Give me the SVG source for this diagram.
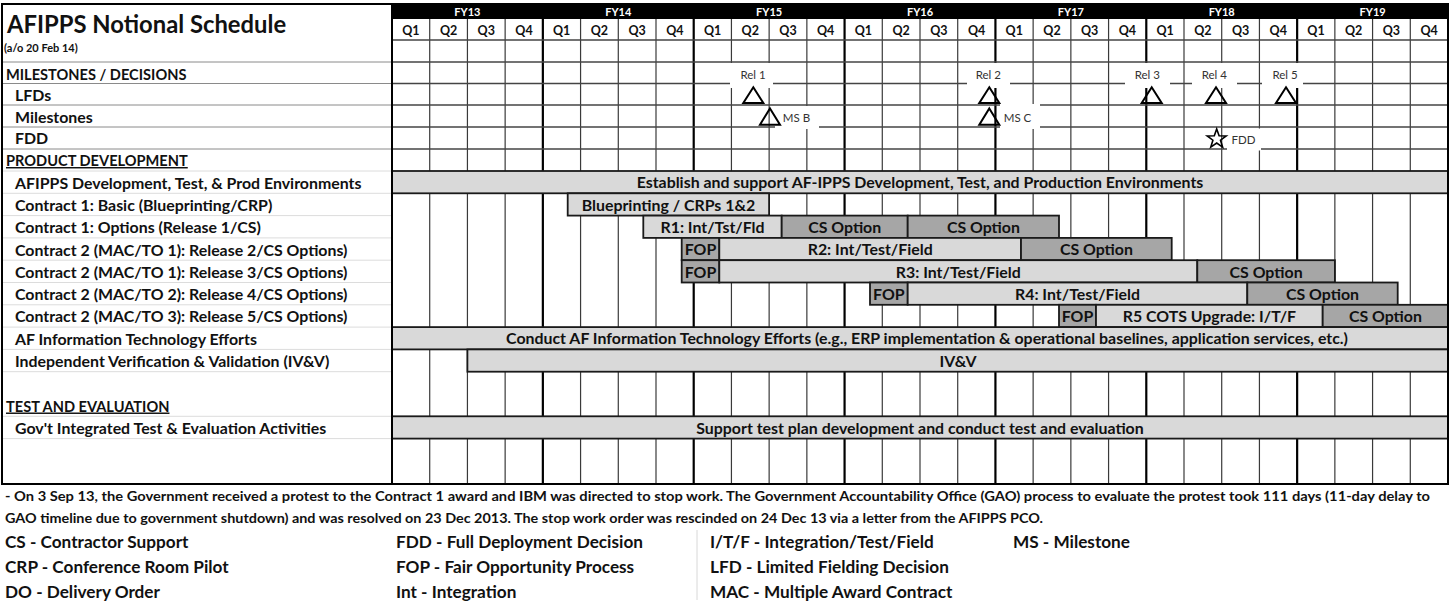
<svg xmlns="http://www.w3.org/2000/svg" width="1450" height="606" viewBox="0 0 1450 606">
<style>
text{font-family:Lato,"Liberation Sans",sans-serif;fill:#111}
.b{font-weight:bold}
.lbl{font-weight:bold;font-size:15.9px}
.hd{font-weight:bold;font-size:14.6px}
.fy{font-weight:bold;font-size:11px;fill:#fff;text-anchor:middle}
.q{font-weight:bold;font-size:12.5px;text-anchor:middle}
.bt{font-weight:bold;font-size:15.9px;text-anchor:middle}
.ms{font-size:11.5px;fill:#333;text-anchor:middle}
.lg{font-weight:bold;font-size:17.2px}
.nt{font-weight:bold;font-size:14px}
.vq{stroke:#3a3a3a;stroke-width:1.2}
.vy{stroke:#000;stroke-width:2.2}
.hm{stroke:#444;stroke-width:1.3}
.sepm{stroke:#8a8a8a;stroke-width:1}
.sepl{stroke:#dcdcdc;stroke-width:1}
.lt{fill:#d9d9d9;stroke:#1a1a1a;stroke-width:1.8}
.dk{fill:#a6a6a6;stroke:#1a1a1a;stroke-width:1.8}
.tri{fill:none;stroke:#000;stroke-width:2}
.wb{fill:#fff;stroke:none}
</style>
<rect x="0" y="0" width="1450" height="606" fill="#fff"/>

<g id="grid">
  <g id="quarter-lines">
    <line class="vq" x1="429.71" y1="19" x2="429.71" y2="484"/>
    <line class="vq" x1="467.43" y1="19" x2="467.43" y2="484"/>
    <line class="vq" x1="505.14" y1="19" x2="505.14" y2="484"/>
    <line class="vq" x1="580.57" y1="19" x2="580.57" y2="484"/>
    <line class="vq" x1="618.29" y1="19" x2="618.29" y2="484"/>
    <line class="vq" x1="656" y1="19" x2="656" y2="484"/>
    <line class="vq" x1="731.43" y1="19" x2="731.43" y2="484"/>
    <line class="vq" x1="769.14" y1="19" x2="769.14" y2="484"/>
    <line class="vq" x1="806.86" y1="19" x2="806.86" y2="484"/>
    <line class="vq" x1="882.29" y1="19" x2="882.29" y2="484"/>
    <line class="vq" x1="920" y1="19" x2="920" y2="484"/>
    <line class="vq" x1="957.71" y1="19" x2="957.71" y2="484"/>
    <line class="vq" x1="1033.14" y1="19" x2="1033.14" y2="484"/>
    <line class="vq" x1="1070.86" y1="19" x2="1070.86" y2="484"/>
    <line class="vq" x1="1108.57" y1="19" x2="1108.57" y2="484"/>
    <line class="vq" x1="1184" y1="19" x2="1184" y2="484"/>
    <line class="vq" x1="1221.71" y1="19" x2="1221.71" y2="484"/>
    <line class="vq" x1="1259.43" y1="19" x2="1259.43" y2="484"/>
    <line class="vq" x1="1334.86" y1="19" x2="1334.86" y2="484"/>
    <line class="vq" x1="1372.57" y1="19" x2="1372.57" y2="484"/>
    <line class="vq" x1="1410.29" y1="19" x2="1410.29" y2="484"/>
  </g>
  <g id="fy-lines">
    <line class="vy" x1="542.86" y1="19" x2="542.86" y2="484"/>
    <line class="vy" x1="693.71" y1="19" x2="693.71" y2="484"/>
    <line class="vy" x1="844.57" y1="19" x2="844.57" y2="484"/>
    <line class="vy" x1="995.43" y1="19" x2="995.43" y2="484"/>
    <line class="vy" x1="1146.29" y1="19" x2="1146.29" y2="484"/>
    <line class="vy" x1="1297.14" y1="19" x2="1297.14" y2="484"/>
  </g>
  <g id="milestone-rows">
    <line class="hm" x1="392" y1="40" x2="1448" y2="40"/>
    <line class="hm" x1="392" y1="62" x2="1448" y2="62"/>
    <line class="hm" x1="392" y1="83.5" x2="1448" y2="83.5"/>
    <line class="hm" x1="392" y1="105" x2="1448" y2="105"/>
    <line class="hm" x1="392" y1="127" x2="1448" y2="127"/>
    <line class="hm" x1="392" y1="149" x2="1448" y2="149"/>
  </g>
</g>

<g id="header">
  <rect x="392" y="4" width="1056" height="15" fill="#000"/>
  <text class="fy" x="467.4" y="15.5">FY13</text>
  <text class="fy" x="618.3" y="15.5">FY14</text>
  <text class="fy" x="769.1" y="15.5">FY15</text>
  <text class="fy" x="920" y="15.5">FY16</text>
  <text class="fy" x="1070.9" y="15.5">FY17</text>
  <text class="fy" x="1221.7" y="15.5">FY18</text>
  <text class="fy" x="1372.6" y="15.5">FY19</text>
  <g id="quarters">
    <text class="q" x="410.86" y="35">Q1</text><text class="q" x="448.57" y="35">Q2</text><text class="q" x="486.29" y="35">Q3</text><text class="q" x="524" y="35">Q4</text>
    <text class="q" x="561.71" y="35">Q1</text><text class="q" x="599.43" y="35">Q2</text><text class="q" x="637.14" y="35">Q3</text><text class="q" x="674.86" y="35">Q4</text>
    <text class="q" x="712.57" y="35">Q1</text><text class="q" x="750.29" y="35">Q2</text><text class="q" x="788" y="35">Q3</text><text class="q" x="825.71" y="35">Q4</text>
    <text class="q" x="863.43" y="35">Q1</text><text class="q" x="901.14" y="35">Q2</text><text class="q" x="938.86" y="35">Q3</text><text class="q" x="976.57" y="35">Q4</text>
    <text class="q" x="1014.29" y="35">Q1</text><text class="q" x="1052" y="35">Q2</text><text class="q" x="1089.71" y="35">Q3</text><text class="q" x="1127.43" y="35">Q4</text>
    <text class="q" x="1165.14" y="35">Q1</text><text class="q" x="1202.86" y="35">Q2</text><text class="q" x="1240.57" y="35">Q3</text><text class="q" x="1278.29" y="35">Q4</text>
    <text class="q" x="1316" y="35">Q1</text><text class="q" x="1353.71" y="35">Q2</text><text class="q" x="1391.43" y="35">Q3</text><text class="q" x="1429.14" y="35">Q4</text>
  </g>
</g>

<g id="bars">
  <g id="bar-env"><rect class="lt" x="392" y="171" width="1056" height="22.3"/><text class="bt" x="920" y="188.3">Establish and support AF-IPPS Development, Test, and Production Environments</text></g>
  <g id="bar-blueprint"><rect class="lt" x="567.7" y="193.3" width="201.4" height="22.3"/><text class="bt" x="668.4" y="210.6">Blueprinting / CRPs 1&amp;2</text></g>
  <g id="bar-r1">
    <rect class="lt" x="643.3" y="215.6" width="138.4" height="22.3"/><text class="bt" x="712.5" y="232.9">R1: Int/Tst/Fld</text>
    <rect class="dk" x="781.7" y="215.6" width="126" height="22.3"/><text class="bt" x="844.7" y="232.9">CS Option</text>
    <rect class="dk" x="907.7" y="215.6" width="151.3" height="22.3"/><text class="bt" x="983.4" y="232.9">CS Option</text>
  </g>
  <g id="bar-r2">
    <rect class="dk" x="681.7" y="237.9" width="37.6" height="22.3"/><text class="bt" x="700.5" y="255.2">FOP</text>
    <rect class="lt" x="719.3" y="237.9" width="301.7" height="22.3"/><text class="bt" x="870.2" y="255.2">R2: Int/Test/Field</text>
    <rect class="dk" x="1021" y="237.9" width="150.7" height="22.3"/><text class="bt" x="1096.4" y="255.2">CS Option</text>
  </g>
  <g id="bar-r3">
    <rect class="dk" x="681.7" y="260.2" width="37.6" height="22.3"/><text class="bt" x="700.5" y="277.5">FOP</text>
    <rect class="lt" x="719.3" y="260.2" width="478" height="22.3"/><text class="bt" x="958.3" y="277.5">R3: Int/Test/Field</text>
    <rect class="dk" x="1197.3" y="260.2" width="137.6" height="22.3"/><text class="bt" x="1266.1" y="277.5">CS Option</text>
  </g>
  <g id="bar-r4">
    <rect class="dk" x="870" y="282.5" width="37.7" height="22.3"/><text class="bt" x="888.9" y="299.8">FOP</text>
    <rect class="lt" x="907.7" y="282.5" width="339.6" height="22.3"/><text class="bt" x="1077.5" y="299.8">R4: Int/Test/Field</text>
    <rect class="dk" x="1247.3" y="282.5" width="150.4" height="22.3"/><text class="bt" x="1322.5" y="299.8">CS Option</text>
  </g>
  <g id="bar-r5">
    <rect class="dk" x="1059" y="304.8" width="37" height="22.3"/><text class="bt" x="1077.5" y="322.1">FOP</text>
    <rect class="lt" x="1096" y="304.8" width="226.7" height="22.3"/><text class="bt" x="1209.4" y="322.1">R5 COTS Upgrade: I/T/F</text>
    <rect class="dk" x="1322.7" y="304.8" width="125.3" height="22.3"/><text class="bt" x="1385.4" y="322.1">CS Option</text>
  </g>
  <g id="bar-it"><rect class="lt" x="392" y="327.1" width="1056" height="22.3"/><text class="bt" x="927" y="344.4">Conduct AF Information Technology Efforts (e.g., ERP implementation &amp; operational baselines, application services, etc.)</text></g>
  <g id="bar-ivv"><rect class="lt" x="467.4" y="349.4" width="980.6" height="22.3"/><text class="bt" x="958" y="366.7">IV&amp;V</text></g>
  <g id="bar-test"><rect class="lt" x="392" y="416.3" width="1056" height="22.3"/><text class="bt" x="920" y="433.6">Support test plan development and conduct test and evaluation</text></g>
</g>

<g id="labels">
  <rect x="2" y="4" width="390" height="480" fill="#fff"/>
  <line class="sepm" x1="2" y1="62" x2="392" y2="62"/>
  <line class="sepm" x1="2" y1="83.5" x2="392" y2="83.5"/>
  <line class="sepm" x1="2" y1="105" x2="392" y2="105"/>
  <line class="sepm" x1="2" y1="127" x2="392" y2="127"/>
  <line class="sepm" x1="2" y1="149" x2="392" y2="149"/>
  <g id="light-seps">
    <line class="sepl" x1="2" y1="171" x2="392" y2="171"/>
    <line class="sepl" x1="2" y1="193.3" x2="392" y2="193.3"/>
    <line class="sepl" x1="2" y1="215.6" x2="392" y2="215.6"/>
    <line class="sepl" x1="2" y1="237.9" x2="392" y2="237.9"/>
    <line class="sepl" x1="2" y1="260.2" x2="392" y2="260.2"/>
    <line class="sepl" x1="2" y1="282.5" x2="392" y2="282.5"/>
    <line class="sepl" x1="2" y1="304.8" x2="392" y2="304.8"/>
    <line class="sepl" x1="2" y1="327.1" x2="392" y2="327.1"/>
    <line class="sepl" x1="2" y1="349.4" x2="392" y2="349.4"/>
    <line class="sepl" x1="2" y1="371.7" x2="392" y2="371.7"/>
    <line class="sepl" x1="2" y1="416.3" x2="392" y2="416.3"/>
    <line class="sepl" x1="2" y1="438.6" x2="392" y2="438.6"/>
  </g>
  <text class="b" x="7" y="33" font-size="23.8">AFIPPS Notional Schedule</text>
  <text class="b" x="4" y="52" font-size="11">(a/o 20 Feb 14)</text>
  <text class="hd" x="6" y="79.5">MILESTONES / DECISIONS</text>
  <text class="lbl" x="15" y="101.3">LFDs</text>
  <text class="lbl" x="15" y="122.8">Milestones</text>
  <text class="lbl" x="15" y="144.3">FDD</text>
  <text class="hd" x="6" y="166" text-decoration="underline">PRODUCT DEVELOPMENT</text>
  <text class="lbl" x="15" y="188.6">AFIPPS Development, Test, &amp; Prod Environments</text>
  <text class="lbl" x="15" y="210.9">Contract 1: Basic (Blueprinting/CRP)</text>
  <text class="lbl" x="15" y="233.2">Contract 1: Options (Release 1/CS)</text>
  <text class="lbl" x="15" y="255.5">Contract 2 (MAC/TO 1): Release 2/CS Options)</text>
  <text class="lbl" x="15" y="277.8">Contract 2 (MAC/TO 1): Release 3/CS Options)</text>
  <text class="lbl" x="15" y="300.1">Contract 2 (MAC/TO 2): Release 4/CS Options)</text>
  <text class="lbl" x="15" y="322.4">Contract 2 (MAC/TO 3): Release 5/CS Options)</text>
  <text class="lbl" x="15" y="344.7">AF Information Technology Efforts</text>
  <text class="lbl" x="15" y="367">Independent Verification &amp; Validation (IV&amp;V)</text>
  <text class="hd" x="6" y="411.5" text-decoration="underline">TEST AND EVALUATION</text>
  <text class="lbl" x="15" y="433.9">Gov't Integrated Test &amp; Evaluation Activities</text>
</g>

<g id="milestones">
  <g id="rel1"><rect class="wb" x="730" y="63" width="43" height="25"/><text class="ms" x="753" y="79">Rel 1</text><path class="tri" d="M753.3 87.3 L763.3 103 L743.3 103 Z"/></g>
  <g id="msb"><rect class="wb" x="775" y="106" width="44" height="23"/><path class="tri" d="M770 108.5 L780 124.7 L760 124.7 Z"/><text class="ms" x="796.5" y="122">MS B</text></g>
  <g id="rel2"><rect class="wb" x="967" y="63" width="43" height="25"/><text class="ms" x="988.3" y="79">Rel 2</text><path class="tri" d="M989.3 87.3 L999.3 103 L979.3 103 Z"/></g>
  <g id="msc"><rect class="wb" x="1000" y="104" width="40" height="25"/><path class="tri" d="M989.3 108.5 L999.3 124.7 L979.3 124.7 Z"/><text class="ms" x="1017.5" y="122">MS C</text></g>
  <g id="rel3"><rect class="wb" x="1125" y="63" width="45" height="25"/><text class="ms" x="1147.3" y="79">Rel 3</text><path class="tri" d="M1151.7 87.3 L1161.7 103 L1141.7 103 Z"/></g>
  <g id="rel4"><rect class="wb" x="1192" y="63" width="45" height="25"/><text class="ms" x="1214.3" y="79">Rel 4</text><path class="tri" d="M1216 87.3 L1226 103 L1206 103 Z"/></g>
  <g id="rel5"><rect class="wb" x="1262" y="63" width="41" height="25"/><text class="ms" x="1285" y="79">Rel 5</text><path class="tri" d="M1286 87.3 L1296 103 L1276 103 Z"/></g>
  <g id="fdd"><rect class="wb" x="1227" y="128.5" width="34" height="22"/><path d="M1216.7 129 L1219.1 135.8 L1226.2 135.9 L1220.5 140.2 L1222.6 147.1 L1216.7 143 L1210.8 147.1 L1212.9 140.2 L1207.2 135.9 L1214.3 135.8 Z" fill="none" stroke="#000" stroke-width="1.6"/><text class="ms" x="1243.5" y="143.5">FDD</text></g>
</g>

<g id="frame">
  <line x1="392" y1="4" x2="392" y2="484" stroke="#000" stroke-width="2"/>
  <rect x="2" y="4" width="1446" height="480" fill="none" stroke="#000" stroke-width="2"/>
</g>

<g id="footer">
  <text class="nt" x="5" y="501" textLength="1425" lengthAdjust="spacingAndGlyphs">- On 3 Sep 13, the Government received a protest to the Contract 1 award and IBM was directed to stop work.  The Government Accountability Office (GAO) process to evaluate the protest took 111 days (11-day delay to</text>
  <text class="nt" x="5" y="523" textLength="1038" lengthAdjust="spacingAndGlyphs">GAO timeline due to government shutdown) and was resolved on 23 Dec 2013.  The stop work order was rescinded on 24 Dec 13 via a letter from the AFIPPS PCO.</text>
  <line x1="697" y1="530" x2="697" y2="600" stroke="#d8d8d8" stroke-width="1"/>
  <text class="lg" x="5" y="548">CS - Contractor Support</text>
  <text class="lg" x="5" y="573">CRP - Conference Room Pilot</text>
  <text class="lg" x="5" y="598">DO - Delivery Order</text>
  <text class="lg" x="396" y="548">FDD - Full Deployment Decision</text>
  <text class="lg" x="396" y="573">FOP - Fair Opportunity Process</text>
  <text class="lg" x="396" y="598">Int - Integration</text>
  <text class="lg" x="710" y="548">I/T/F - Integration/Test/Field</text>
  <text class="lg" x="710" y="573">LFD - Limited Fielding Decision</text>
  <text class="lg" x="710" y="598">MAC - Multiple Award Contract</text>
  <text class="lg" x="1013" y="548">MS - Milestone</text>
</g>
</svg>
